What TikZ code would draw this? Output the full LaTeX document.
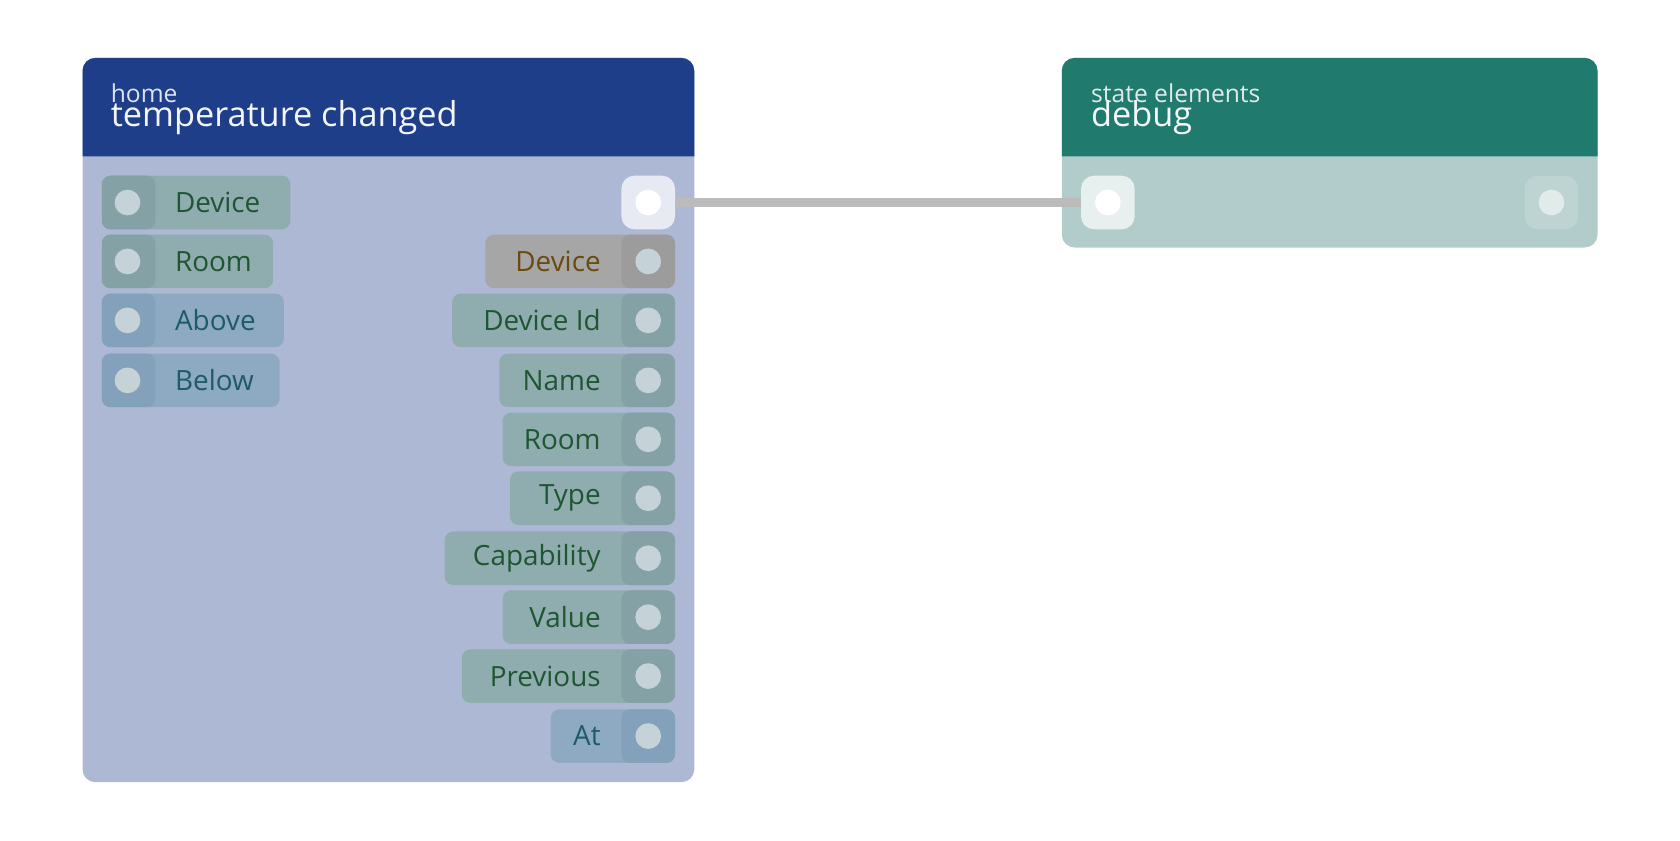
\documentclass[tikz,border=0pt]{standalone}
\usepackage{fontspec}
\setmainfont{Open Sans}
\usetikzlibrary{positioning}
\definecolor{homehead}{HTML}{1F3E8A}
\definecolor{homebody}{HTML}{ADB9D4}
\definecolor{dbghead}{HTML}{217A6E}
\definecolor{dbgbody}{HTML}{B1CCCB}
\definecolor{pillgreen}{HTML}{8FADAF}
\definecolor{sockgreen}{HTML}{84A2A6}
\definecolor{pillblue}{HTML}{8DAAC2}
\definecolor{sockblue}{HTML}{83A1BA}
\definecolor{pillgray}{HTML}{A6A6A6}
\definecolor{sockgray}{HTML}{9C9C9C}
\definecolor{txtgreen}{HTML}{1E5631}
\definecolor{txtblue}{HTML}{1E5A6A}
\definecolor{txtbrown}{HTML}{6B4A10}
\definecolor{dotcol}{HTML}{C5D2D8}
\definecolor{wire}{HTML}{BBBBBB}
\tikzset{
  lbl/.style={font=\fontsize{13}{15}\selectfont, inner sep=0pt},
  dot/.style={circle, fill=dotcol, minimum size=12pt, inner sep=0pt},
}
\begin{document}
\begin{tikzpicture}[x=0.5pt, y=-0.5pt]
  \useasboundingbox (0,0) rectangle (1568,784);

  % home node
  \fill[homebody, rounded corners=6pt] (77,54) rectangle (648,730);
  \fill[homehead] (77,146) [rounded corners=6pt] -- (77,54) -- (648,54) [sharp corners] -- (648,146) -- cycle;
  \node[anchor=base west, font=\fontsize{11.5}{12}\selectfont, text=white!85!homehead, inner sep=0pt] (homecat) at (103,96) {home};
  \node[anchor=base west, font=\fontsize{16}{18}\selectfont, text=white!95!homehead, inner sep=0pt] (homename) at (103,118) {temperature changed};

  % debug node
  \fill[dbgbody, rounded corners=6pt] (991,54) rectangle (1491,231);
  \fill[dbghead] (991,146) [rounded corners=6pt] -- (991,54) -- (1491,54) [sharp corners] -- (1491,146) -- cycle;
  \node[anchor=base west, font=\fontsize{11.5}{12}\selectfont, text=white!85!dbghead, inner sep=0pt] (dbgcat) at (1018,96) {state elements};
  \node[anchor=base west, font=\fontsize{16}{18}\selectfont, text=white!95!dbghead, inner sep=0pt] (dbgname) at (1018,118) {debug};

  % inputs of home
  \foreach \y/\r/\t/\p/\s/\c in {189/271/Device/pillgreen/sockgreen/txtgreen,
      244/255/Room/pillgreen/sockgreen/txtgreen,
      299/265/Above/pillblue/sockblue/txtblue,
      355/261/Below/pillblue/sockblue/txtblue} {
    \fill[\p, rounded corners=4pt] (95,\y-25) rectangle (\r,\y+25);
    \fill[\s, rounded corners=4pt] (95,\y-25) rectangle (145,\y+25);
    \node[dot] (in-\t) at (119,\y) {};
    \node[lbl, anchor=west, text=\c] (inlbl-\t) at (163,\y) {\t};
  }

  % outputs of home
  \foreach \y/\l/\t/\p/\s/\c in {244/453/Device/pillgray/sockgray/txtbrown,
      299/422/Device Id/pillgreen/sockgreen/txtgreen,
      355/466/Name/pillgreen/sockgreen/txtgreen,
      410/469/Room/pillgreen/sockgreen/txtgreen,
      465/476/Type/pillgreen/sockgreen/txtgreen,
      521/415/Capability/pillgreen/sockgreen/txtgreen,
      576/469/Value/pillgreen/sockgreen/txtgreen,
      631/431/Previous/pillgreen/sockgreen/txtgreen,
      687/514/At/pillblue/sockblue/txtblue} {
    \fill[\p, rounded corners=4pt] (\l,\y-25) rectangle (630,\y+25);
    \fill[\s, rounded corners=4pt] (580,\y-25) rectangle (630,\y+25);
    \node[dot] (out-\y) at (605,\y) {};
    \node[lbl, anchor=east, text=\c] (outlbl-\y) at (561,\y) {\t};
  }

  % flow sockets and wire
  \coordinate (flowout) at (605,189);
  \coordinate (dbgin) at (1034,189);
  \draw[wire, line width=4.5pt] (flowout) -- (dbgin);
  \fill[white!70!homebody, rounded corners=6pt] (580,164) rectangle (630,214);
  \node[dot, fill=white] (flowdot) at (flowout) {};
  \fill[white!70!dbgbody, rounded corners=6pt] (1009,164) rectangle (1059,214);
  \node[dot, fill=white] (dbgindot) at (dbgin) {};
  \fill[white!15!dbgbody, rounded corners=6pt] (1423,164) rectangle (1473,214);
  \node[dot, fill=white!60!dbgbody] (dbgout) at (1448,189) {};
\end{tikzpicture}
\end{document}
